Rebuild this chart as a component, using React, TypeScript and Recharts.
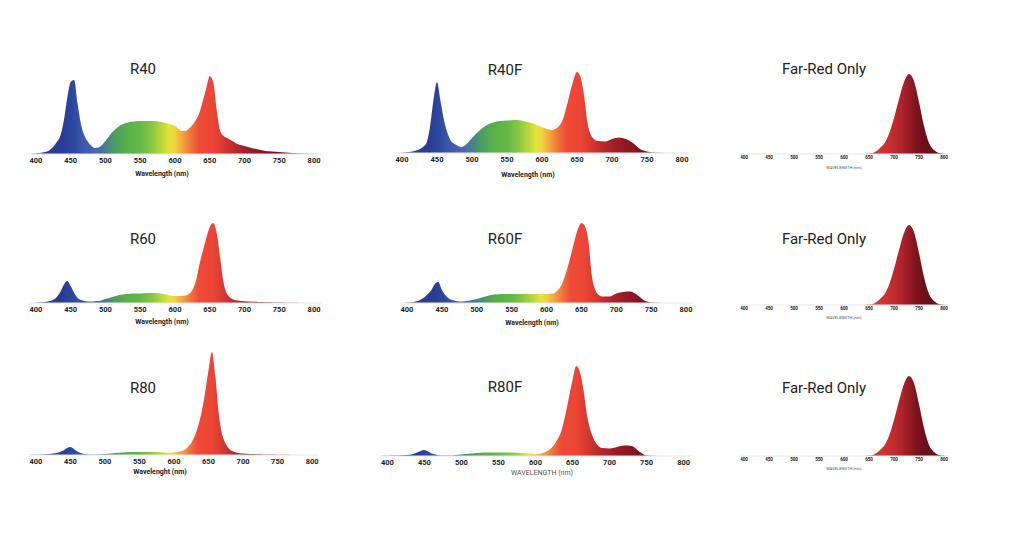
import { Area, AreaChart, XAxis, YAxis } from 'recharts'

// shared wavelength grid (nm), denser around the LED peaks
const WAVELENGTHS = [
  390, 400, 410, 420, 430, 435, 440, 445, 450, 455, 460, 465, 470, 475, 480, 485, 490,
  500, 510, 520, 530, 540, 550, 560, 570, 580, 590, 600, 610,
  615, 620, 625, 630, 635, 640, 645, 650, 655, 660, 665, 670, 675, 680,
  690, 700, 710, 720, 730, 740, 750, 760, 770, 780, 790, 800, 810,
]

const R40 = [
  0, 0.5, 1.5, 4, 12, 18, 33, 56, 72, 74, 50, 29, 18, 12, 8, 6, 6.5,
  13, 22, 28, 31, 32.5, 33, 33, 33, 32, 30.5, 28, 23,
  23, 25.5, 29, 34, 41, 53, 66, 78, 72, 44, 23, 18, 16, 14,
  10, 8, 6, 4.5, 3, 2.5, 2, 1.5, 1, 0.7, 0.4, 0.2, 0,
]

const R40F = [
  0, 0.3, 1, 2.5, 6, 10, 26, 53, 71, 52, 33, 20, 12, 9, 7, 6, 7.5,
  15, 22, 27.5, 30.5, 32, 32.5, 33, 32.5, 31, 29, 26, 23.5,
  23, 24.5, 27.5, 34, 46, 60, 73, 81, 76, 58, 30, 18, 13.5, 12,
  11.5, 14, 15.5, 14, 10, 4, 1.5, 0.5, 0.2, 0, 0, 0, 0,
]

const R60 = [
  0, 0.3, 0.8, 2, 6, 11, 18, 22, 17, 10, 5, 3, 2, 1.5, 1.5, 1.8, 2,
  4, 6, 8, 9, 9.5, 9.5, 10, 10, 9.5, 8, 7, 7,
  7.5, 9, 13, 22, 38, 52, 65, 76, 80, 70, 45, 20, 9, 5,
  2.5, 1.8, 1.3, 1, 0.8, 0.6, 0.4, 0.3, 0.2, 0.1, 0.1, 0, 0,
]

const R60F = [
  0, 0.3, 1, 3.5, 9, 13, 19, 21, 13, 8, 4.5, 3, 2, 1.5, 1.5, 2, 2.5,
  4, 6, 8, 8.8, 9, 9, 9, 9, 9, 9, 9, 9.5,
  12, 16, 24, 35, 48, 62, 74, 80, 77, 62, 27, 13, 8, 6.5,
  6.5, 9.5, 11, 11.5, 8, 2.5, 0.6, 0.2, 0, 0, 0, 0, 0,
]

const R80 = [
  0, 0.2, 0.5, 1, 2, 3, 4.5, 7, 8, 6, 3.5, 2, 1, 0.7, 0.5, 0.5, 0.6,
  1, 1.6, 2.3, 2.8, 3, 3, 3, 3, 2.7, 2.2, 2.5, 3.8,
  5, 8, 12, 19, 29, 43, 62, 85, 103, 78, 40, 20, 11, 6,
  2.5, 1.5, 1, 0.8, 0.6, 0.5, 0.3, 0.2, 0, 0, 0, 0, 0,
]

const R80F = [
  0, 0.2, 0.4, 0.8, 1.3, 2, 3.5, 5, 6, 4.5, 2.5, 1.5, 0.8, 0.4, 0.4, 0.5, 0.8,
  1.5, 2.2, 3, 3.4, 3.6, 3.6, 3.5, 3.4, 3, 2.4, 2, 3,
  4.5, 7, 11, 17, 25, 40, 58, 76, 90, 84, 65, 39, 24, 15,
  8, 7.5, 9, 10.5, 10, 4.5, 0.6, 0.2, 0, 0, 0, 0, 0,
]

const FAR_RED = [
  0, 0, 0, 0, 0, 0, 0, 0, 0, 0, 0, 0, 0, 0, 0, 0, 0,
  0, 0, 0, 0, 0, 0, 0, 0, 0, 0, 0, 0,
  0, 0, 0, 0, 0, 0, 0.3, 0.5, 0.8, 1.5, 3, 5, 7.5, 10,
  20, 36, 55, 72, 80, 73, 52, 28, 11, 4, 1, 0.2, 0,
]

const TICKS = [400, 450, 500, 550, 600, 650, 700, 750, 800]

const DOMAIN: [number, number] = [390, 810]
const PLOT_H = 110
const AXIS_H = 20

// gradient colours keyed by wavelength
const SPECTRUM: [number, string][] = [
  [390, '#2a3a8f'],
  [440, '#2a3d96'],
  [455, '#3049a0'],
  [470, '#3f5aac'],
  [488, '#4a68ad'],
  [500, '#45808f'],
  [512, '#4c9a62'],
  [530, '#58b049'],
  [550, '#64b846'],
  [565, '#86c444'],
  [580, '#b8d63e'],
  [592, '#e4e43b'],
  [600, '#f2d23e'],
  [612, '#f2a03e'],
  [625, '#f06b3a'],
  [635, '#ee4a37'],
  [655, '#ec4535'],
  [668, '#d93a31'],
  [685, '#bb2b2d'],
  [705, '#9d1f27'],
  [725, '#8a1621'],
  [745, '#7c111c'],
  [770, '#a04048'],
  [810, '#e8c0c0'],
]

const FAR_RED_STOPS: [number, string][] = [
  [640, '#d8453c'],
  [690, '#c8302f'],
  [715, '#b0242b'],
  [730, '#961c25'],
  [745, '#7d131d'],
  [765, '#6a0f18'],
  [810, '#6a0f18'],
]

interface PanelProps {
  id: string
  title: string
  values: number[]
  stops: [number, string][]
  left: number
  width: number
  baseline: number
  titleX: number
  titleY: number
  axisLabel: string
  labelX: number
  labelY: number
  tickFont: number
  tickMargin: number
  labelFont: number
  labelBold: boolean
}

function Panel(p: PanelProps) {
  const data = WAVELENGTHS.map((nm, i) => ({ nm, v: p.values[i] }))
  return (
    <>
      <div
        style={{
          position: 'absolute',
          left: p.left,
          top: p.baseline - PLOT_H,
        }}
      >
        <AreaChart
          width={p.width}
          height={PLOT_H + AXIS_H}
          data={data}
          margin={{ top: 0, right: 0, bottom: 0, left: 0 }}
        >
          <defs>
            <linearGradient id={p.id} x1="0" y1="0" x2="1" y2="0">
              {p.stops.map(([nm, c]) => (
                <stop
                  key={nm}
                  offset={(nm - DOMAIN[0]) / (DOMAIN[1] - DOMAIN[0])}
                  stopColor={c}
                />
              ))}
            </linearGradient>
          </defs>
          <XAxis
            type="number"
            dataKey="nm"
            domain={DOMAIN}
            ticks={TICKS}
            height={AXIS_H}
            interval={0}
            tickLine={false}
            tickSize={0}
            tickMargin={p.tickMargin}
            axisLine={{ stroke: '#e6e6e6' }}
            tick={{
              fill: '#222',
              fontSize: p.tickFont,
              fontWeight: 700,
              fontFamily: 'Roboto',
            }}
          />
          <YAxis hide domain={[0, PLOT_H]} />
          <Area
            type="monotone"
            dataKey="v"
            stroke="none"
            fill={`url(#${p.id})`}
            fillOpacity={1}
            dot={false}
            activeDot={false}
            isAnimationActive={false}
          />
        </AreaChart>
      </div>
      <div
        style={{
          position: 'absolute',
          left: p.titleX,
          top: p.titleY,
          transform: 'translate(-50%, -50%)',
          fontFamily: 'Roboto',
          fontSize: 15,
          color: '#222',
          whiteSpace: 'nowrap',
        }}
      >
        {p.title}
      </div>
      <div
        style={{
          position: 'absolute',
          left: p.labelX,
          top: p.labelY,
          transform: 'translate(-50%, -50%)',
          fontFamily: 'Roboto',
          fontSize: p.labelFont,
          fontWeight: p.labelBold ? 700 : 400,
          color: p.labelBold ? '#222' : '#555',
          whiteSpace: 'nowrap',
        }}
      >
        {p.axisLabel}
      </div>
    </>
  )
}

const big = { tickFont: 7.5, tickMargin: 4, labelFont: 7, labelBold: true }
const tiny = { tickFont: 4.5, tickMargin: 2, labelFont: 4, labelBold: false }

export default function App() {
  return (
    <div
      style={{
        position: 'absolute',
        left: 0,
        top: 0,
        width: 1024,
        height: 546,
        background: '#fff',
        overflow: 'hidden',
      }}
    >
      <Panel id="g1" title="R40" values={R40} stops={SPECTRUM} left={29} width={292} baseline={154}
        titleX={143} titleY={69} axisLabel="Wavelength (nm)" labelX={162} labelY={174} {...big} />
      <Panel id="g2" title="R40F" values={R40F} stops={SPECTRUM} left={395} width={294} baseline={153}
        titleX={505} titleY={70} axisLabel="Wavelength (nm)" labelX={528} labelY={175} {...big} />
      <Panel id="g3" title="Far-Red Only" values={FAR_RED} stops={FAR_RED_STOPS} left={739} width={210} baseline={154}
        titleX={824} titleY={69} axisLabel="WAVELENGTH (nm)" labelX={844} labelY={167} {...tiny} />

      <Panel id="g4" title="R60" values={R60} stops={SPECTRUM} left={29} width={292} baseline={303}
        titleX={143} titleY={239} axisLabel="Wavelength (nm)" labelX={162} labelY={322} {...big} />
      <Panel id="g5" title="R60F" values={R60F} stops={SPECTRUM} left={400} width={293} baseline={303}
        titleX={505} titleY={239} axisLabel="Wavelength (nm)" labelX={532} labelY={323} {...big} />
      <Panel id="g6" title="Far-Red Only" values={FAR_RED} stops={FAR_RED_STOPS} left={739} width={210} baseline={305}
        titleX={824} titleY={239} axisLabel="WAVELENGTH (nm)" labelX={844} labelY={317} {...tiny} />

      <Panel id="g7" title="R80" values={R80} stops={SPECTRUM} left={29} width={290} baseline={455}
        titleX={143} titleY={388} axisLabel="Wavelenght (nm)" labelX={160} labelY={472} {...big} />
      <Panel id="g8" title="R80F" values={R80F} stops={SPECTRUM} left={380} width={311} baseline={456}
        titleX={505} titleY={387} axisLabel="WAVELENGTH (nm)" labelX={542} labelY={473}
        tickFont={7.5} tickMargin={4} labelFont={7} labelBold={false} />
      <Panel id="g9" title="Far-Red Only" values={FAR_RED} stops={FAR_RED_STOPS} left={739} width={210} baseline={456}
        titleX={824} titleY={388} axisLabel="WAVELENGTH (nm)" labelX={844} labelY={468} {...tiny} />
    </div>
  )
}
